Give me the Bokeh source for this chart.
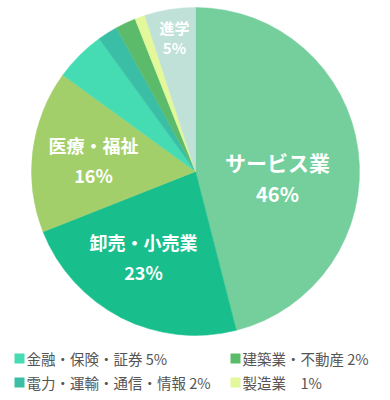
import math
from bokeh.plotting import figure
from bokeh.models import ColumnDataSource
from bokeh.core.properties import value
from bokeh.embed import file_html
from bokeh.resources import INLINE

# ---- data ----
categories = ["サービス業", "卸売・小売業", "医療・福祉", "金融・保険・証券",
              "電力・運輸・通信・情報", "建築業・不動産", "製造業", "進学"]
shares = [46, 23, 16, 5, 2, 2, 1, 5]
colors = ["#74cf9c", "#18bf8c", "#a2cf6a", "#45dbb3",
          "#3abfa6", "#5cbb6b", "#e3f89a", "#bfe1d8"]

# in-slice labels (name, percent)
label_names = ["サービス業", "卸売・小売業", "医療・福祉", "進学"]
label_pcts = ["46%", "23%", "16%", "5%"]

legend_labels = ["金融・保険・証券 5%", "建築業・不動産 2%",
                 "電力・運輸・通信・情報 2%", "製造業　1%"]
legend_colors = ["#45dbb3", "#5cbb6b", "#3abfa6", "#e3f89a"]

# ---- layout (pixel coords, measured from top-left) ----
W, H = 382, 392
CX, CYT, R = 195, 171, 164
FONT = "Noto Sans CJK JP"


def Y(y_top):
    return H - y_top


p = figure(width=W, height=H, x_range=(0, W), y_range=(0, H),
           output_backend="svg", toolbar_location=None, min_border=0,
           outline_line_color=None)
p.axis.visible = False
p.grid.visible = False
p.background_fill_color = "white"
p.border_fill_color = "white"

total = sum(shares)
starts, ends = [], []
acc = 0.0
for s in shares:
    a0 = math.pi / 2 - 2 * math.pi * acc / total
    acc += s
    a1 = math.pi / 2 - 2 * math.pi * acc / total
    starts.append(a0)
    ends.append(a1)

src = ColumnDataSource(dict(start=starts, end=ends, color=colors, cat=categories))
p.wedge(x=CX, y=Y(CYT), radius=R, start_angle="start", end_angle="end",
        direction="clock", fill_color="color", line_color="color",
        line_width=0.5, source=src)

# label positions (x, name y, pct y) in top-left pixel coords
lab_x = [277, 143, 93, 174]
name_y = [161, 241, 144, 27]
pct_y = [193, 271, 174, 47]
name_sizes = ["21px", "18px", "18px", "15px"]
pct_sizes = ["20px", "18px", "18px", "15px"]
styles = ["bold", "bold", "bold", "bold"]
for i in range(len(label_names)):
    p.text(x=[lab_x[i]], y=[Y(name_y[i])], text=[label_names[i]],
           text_font=value(FONT), text_font_size=name_sizes[i],
           text_color="white", text_align="center", text_baseline="middle",
           text_font_style=styles[i])
    p.text(x=[lab_x[i]], y=[Y(pct_y[i])], text=[label_pcts[i]],
           text_font=value(FONT), text_font_size=pct_sizes[i],
           text_color="white", text_align="center", text_baseline="middle",
           text_font_style=styles[i])

# legend
lx = [14, 230, 14, 230]
ly = [358, 358, 382, 382]
p.rect(x=[x + 5 for x in lx], y=[Y(v) for v in ly], width=10, height=10,
       fill_color=legend_colors, line_color=None)
p.text(x=[x + 12 for x in lx], y=[Y(v) for v in ly], text=legend_labels,
       text_font=value(FONT), text_font_size="14.5px", text_color="#555555",
       text_align="left", text_baseline="middle")

open("out.html", "w").write(file_html(p, INLINE))
